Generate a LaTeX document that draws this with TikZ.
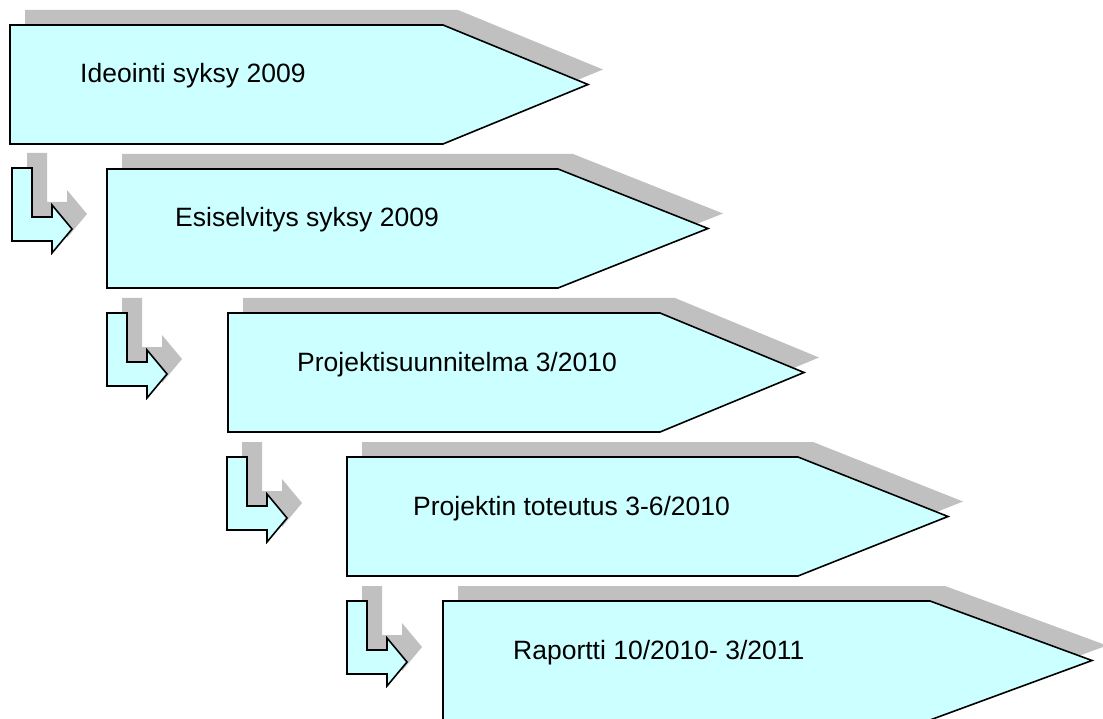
\documentclass[tikz,border=0pt]{standalone}
\usepackage{fontspec}
\setmainfont{Liberation Sans}
\definecolor{phasefill}{HTML}{CCFFFF}
\definecolor{shadowgray}{HTML}{C0C0C0}
\tikzset{
  phasebox/.style={fill=phasefill, draw=black, line width=1.6pt, line join=miter},
  phaseshade/.style={fill=shadowgray, draw=none, xshift=15pt, yshift=15pt},
  phasetext/.style={anchor=base west, inner sep=0pt, font=\fontsize{26.5}{30}\selectfont}
}
% pentagon arrow: left, top, shoulder x, tip x
\newcommand\pentpath[4]{(#1,#2) -- (#3,#2) -- (#4,{#2+59.5}) -- (#3,{#2+119}) -- (#1,{#2+119}) -- cycle}
% bent arrow: left, top
\newcommand\bentpath[2]{(#1,#2) -- ++(20,0) -- ++(0,49) -- ++(20,0) -- ++(0,-12) -- ++(20,24) -- ++(-20,24) -- ++(0,-12) -- ++(-40,0) -- cycle}
\begin{document}
\begin{tikzpicture}[x=1pt,y=-1pt]
\useasboundingbox (0,0) rectangle (1103,719);
% shadows
\fill[phaseshade] \pentpath{10}{25}{443}{588};
\fill[phaseshade] \pentpath{107}{169}{558}{708};
\fill[phaseshade] \pentpath{228}{313}{660}{804};
\fill[phaseshade] \pentpath{347}{457}{798}{948};
\fill[phaseshade] \pentpath{443}{601}{930}{1092};
\fill[phaseshade] \bentpath{12}{168};
\fill[phaseshade] \bentpath{107}{313};
\fill[phaseshade] \bentpath{227}{457};
\fill[phaseshade] \bentpath{347}{601};
% shapes
\draw[phasebox] \pentpath{10}{25}{443}{588};
\draw[phasebox] \pentpath{107}{169}{558}{708};
\draw[phasebox] \pentpath{228}{313}{660}{804};
\draw[phasebox] \pentpath{347}{457}{798}{948};
\draw[phasebox] \pentpath{443}{601}{930}{1092};
\draw[phasebox] \bentpath{12}{168};
\draw[phasebox] \bentpath{107}{313};
\draw[phasebox] \bentpath{227}{457};
\draw[phasebox] \bentpath{347}{601};
% texts
\node[phasetext] (t1) at (80,83) {Ideointi syksy 2009};
\node[phasetext] (t2) at (175,227) {Esiselvitys syksy 2009};
\node[phasetext] (t3) at (297,371) {Projektisuunnitelma 3/2010};
\node[phasetext] (t4) at (413,515) {Projektin toteutus 3-6/2010};
\node[phasetext] (t5) at (513,659) {Raportti 10/2010- 3/2011};
\end{tikzpicture}
\end{document}
